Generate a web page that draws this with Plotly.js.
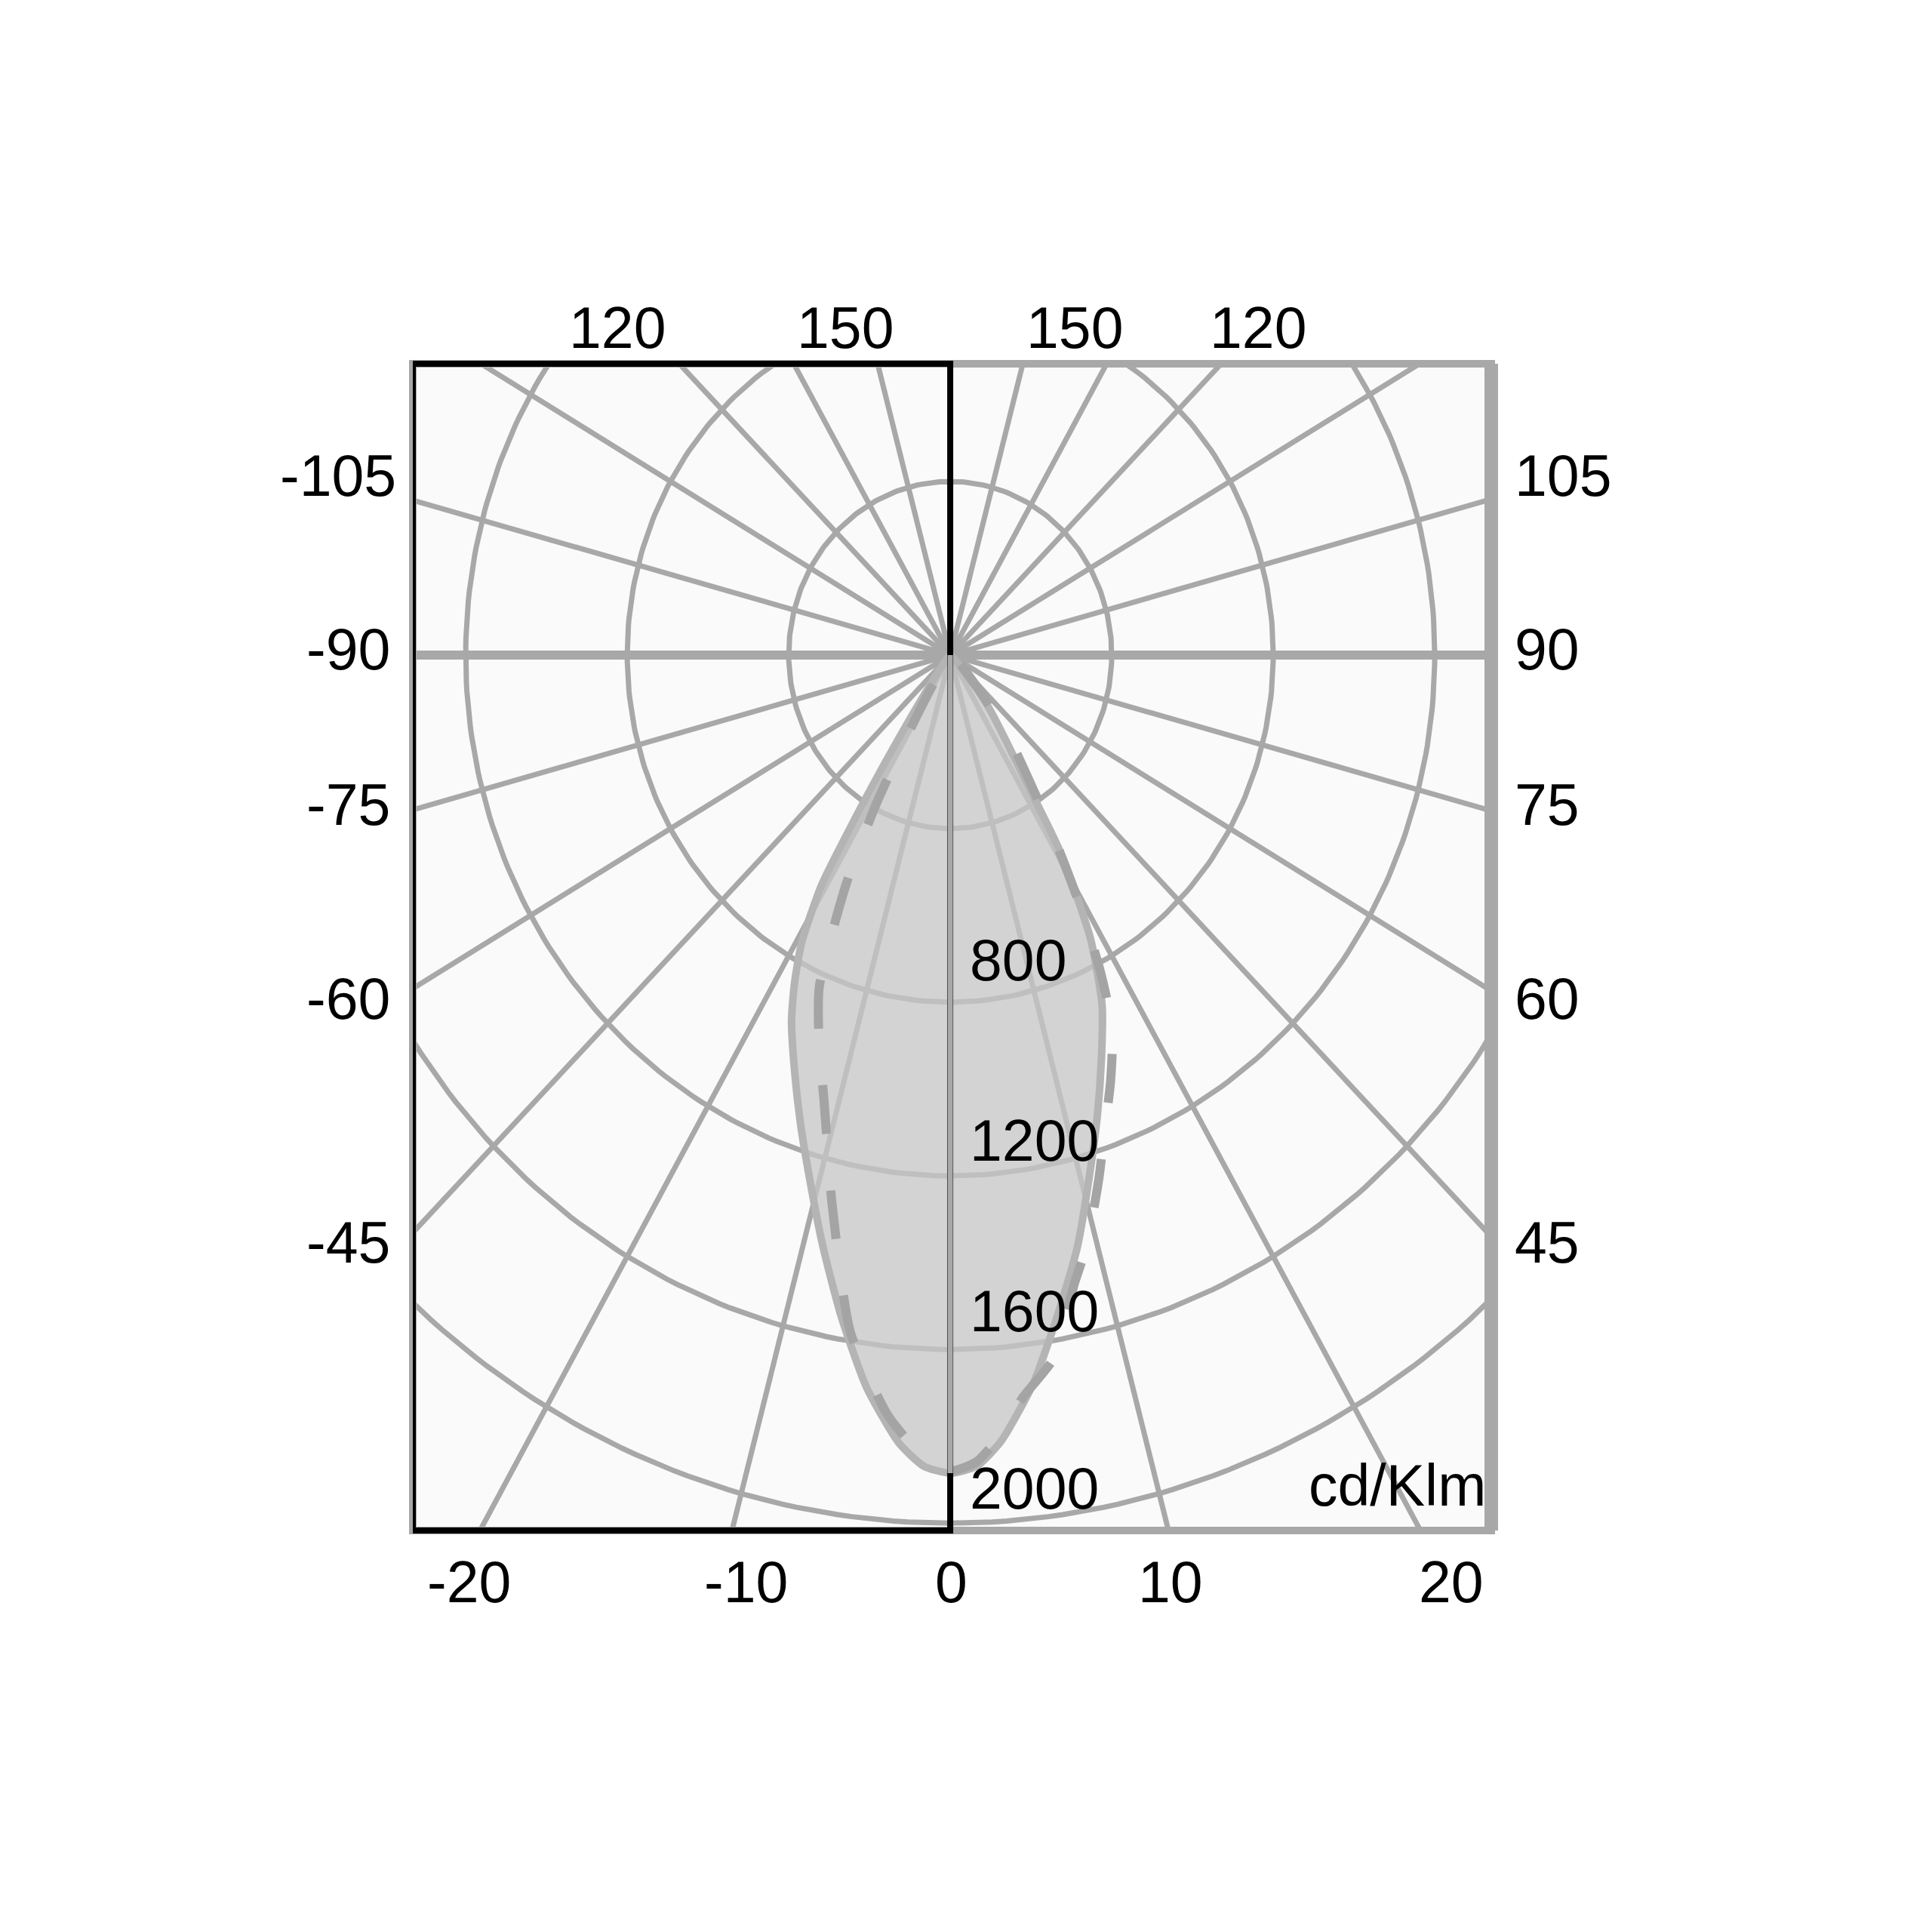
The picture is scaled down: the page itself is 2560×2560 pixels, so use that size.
<!DOCTYPE html>
<html>
<head>
<meta charset="utf-8">
<script src="https://cdn.plot.ly/plotly-3.0.1.min.js"></script>
<style>html,body{margin:0;padding:0;background:#ffffff;}</style>
</head>
<body>
<div id="chart" style="width:2560px;height:2560px;"></div>
<script>
// ---------------- data ----------------
// solid curve (filled): angle in degrees from nadir (negative = left), intensity cd/klm
const solidAngles = [-40,-35,-33,-32,-31,-29,-27,-25,-22,-19,-16,-13,-10,-7,-4,-2,0,2,4,7,10,13,16,19,22,25,28,31,33,35,38,40,45];
const solidValues = [20,120,300,450,620,760,850,930,1030,1140,1260,1400,1550,1700,1820,1870,1885,1870,1815,1690,1540,1400,1250,1120,1000,890,740,530,330,240,160,110,20];
// dashed curve
const dashedAngles = [-40,-32,-30,-28,-26,-23,-20,-17,-13,-9,-5,-2,0,2,4,6,9,12,14,17,19,22,25,27,29,31,33,36,38,42,50];
const dashedValues = [0,80,200,400,590,830,950,1070,1300,1580,1760,1850,1880,1860,1800,1720,1640,1480,1400,1260,1170,1060,950,820,670,520,400,280,220,100,0];
// grid
const ringValues = [400,800,1200,1600,2000];
const ringLabels = ['800','1200','1600','2000'];
const ringLabelValues = [800,1200,1600,2000];
const spokeAngles = [0,15,30,45,60,75,90,105,120,135,150,165,180,195,210,225,240,255,270,285,300,315,330,345];
// tick labels
const topLabels = ['120','150','150','120'];
const leftLabels = ['-105','-90','-75','-60','-45'];
const rightLabels = ['105','90','75','60','45'];
const bottomLabels = ['-20','-10','0','10','20'];
const unitLabel = 'cd/Klm';

// ---------------- layout geometry ----------------
const BOX = {l:547, r:1976, t:482, b:2028};
const XR = [-1331, 1340];
const YR = [-2017, 671];
const PX = x => (x - BOX.l) / (BOX.r - BOX.l);
const PY = y => (BOX.b - y) / (BOX.b - BOX.t);
const topPosX = [818,1120,1424,1667], topPosY = 434;
const sidePosY = [630,860,1066,1323,1646];
const leftPosX = [527,519,519,519,519];
const rightPosX = 2005;
const bottomPosX = [621,988,1260,1551,1923], bottomPosY = 2096;
const ringShift = [56,47,51,46];

const GRID = '#a8a8a8';
const rad = d => d * Math.PI / 180;
const toXY = (angs, vals) => ({
  x: angs.map((a,i) => vals[i] * Math.sin(rad(a))),
  y: angs.map((a,i) => -vals[i] * Math.cos(rad(a)))
});

const traces = [];
// rings
{
  const x = [], y = [];
  ringValues.forEach(r => {
    for (let k = 0; k <= 360; k++) { x.push(r*Math.sin(rad(k))); y.push(-r*Math.cos(rad(k))); }
    x.push(null); y.push(null);
  });
  traces.push({type:'scatter', mode:'lines', x, y, line:{color:GRID, width:7}, hoverinfo:'skip', showlegend:false});
}
// spokes
{
  const x = [], y = [], R = 6000;
  spokeAngles.filter(a => a % 180 !== 90).forEach(a => {
    x.push(0, R*Math.sin(rad(a)), null); y.push(0, -R*Math.cos(rad(a)), null);
  });
  traces.push({type:'scatter', mode:'lines', x, y, line:{color:GRID, width:7}, hoverinfo:'skip', showlegend:false});
  const hx = [], hy = [];
  spokeAngles.filter(a => a % 180 === 90).forEach(a => {
    hx.push(0, R*Math.sin(rad(a)), null); hy.push(0, -R*Math.cos(rad(a)), null);
  });
  traces.push({type:'scatter', mode:'lines', x:hx, y:hy, line:{color:GRID, width:12}, hoverinfo:'skip', showlegend:false});
}
// solid filled curve
{
  const p = toXY(solidAngles, solidValues);
  p.x.unshift(0); p.y.unshift(0); p.x.push(0); p.y.push(0);
  traces.push({type:'scatter', mode:'lines', x:p.x, y:p.y, fill:'toself',
    fillcolor:'rgba(198,198,198,0.76)', line:{color:'#b4b4b4', width:10, shape:'spline', smoothing:0.6},
    hoverinfo:'skip', showlegend:false});
}
// dashed curve
{
  const p = toXY(dashedAngles, dashedValues);
  traces.push({type:'scatter', mode:'lines', x:p.x, y:p.y,
    line:{color:'#a4a4a4', width:12, dash:'65px,75px', shape:'spline', smoothing:0.6},
    hoverinfo:'skip', showlegend:false});
}

const I0 = solidValues[solidAngles.indexOf(0)];
const shapes = [
  {type:'rect', xref:'paper', yref:'paper', x0:0, x1:1, y0:0, y1:1, line:{color:GRID, width:10}, layer:'above'},
  {type:'line', xref:'paper', yref:'paper', x0:1, x1:1, y0:0, y1:1, line:{color:GRID, width:18}, layer:'above'},
  {type:'rect', xref:'x', yref:'paper', x0:XR[0], x1:0, y0:0, y1:1, line:{color:'#000000', width:8}, layer:'above'},
  {type:'line', xref:'x', yref:'y', x0:0, x1:0, y0:0, y1:-I0, line:{color:GRID, width:7}, layer:'above'}
];

const FONT = {family:'Liberation Sans, Arial, Helvetica, sans-serif', size:77, color:'#000000'};
const ann = [];
topLabels.forEach((t,i) => ann.push({text:t, xref:'paper', yref:'paper', x:PX(topPosX[i]), y:PY(topPosY), xanchor:'center', yanchor:'middle', showarrow:false, font:FONT}));
leftLabels.forEach((t,i) => ann.push({text:t, xref:'paper', yref:'paper', x:PX(leftPosX[i]), y:PY(sidePosY[i]), xanchor:'right', yanchor:'middle', showarrow:false, font:FONT}));
rightLabels.forEach((t,i) => ann.push({text:t, xref:'paper', yref:'paper', x:PX(rightPosX), y:PY(sidePosY[i]), xanchor:'left', yanchor:'middle', showarrow:false, font:FONT}));
bottomLabels.forEach((t,i) => ann.push({text:t, xref:'paper', yref:'paper', x:PX(bottomPosX[i]), y:PY(bottomPosY), xanchor:'center', yanchor:'middle', showarrow:false, font:FONT}));
ringLabels.forEach((t,i) => ann.push({text:t, xref:'x', yref:'y', x:0, y:-ringLabelValues[i], xanchor:'left', yanchor:'middle', xshift:24, yshift:ringShift[i], showarrow:false, font:FONT}));
ann.push({text:unitLabel, xref:'paper', yref:'paper', x:PX(1971), y:PY(1968), xanchor:'right', yanchor:'middle', showarrow:false, font:FONT});

const layout = {
  width:2560, height:2560,
  margin:{l:BOX.l, r:2560-BOX.r, t:BOX.t, b:2560-BOX.b, pad:0},
  paper_bgcolor:'#ffffff', plot_bgcolor:'#fafafa',
  showlegend:false,
  xaxis:{range:XR, showgrid:false, zeroline:false, showticklabels:false, ticks:'', showline:false, fixedrange:true},
  yaxis:{range:YR, showgrid:false, zeroline:false, showticklabels:false, ticks:'', showline:false, fixedrange:true},
  shapes, annotations:ann
};
Plotly.newPlot('chart', traces, layout, {displayModeBar:false, staticPlot:true});
</script>
</body>
</html>
